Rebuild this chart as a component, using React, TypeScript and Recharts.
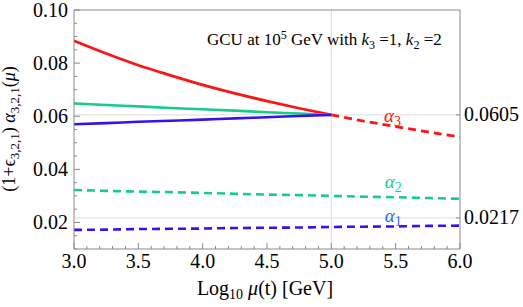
// Running couplings with gauge coupling unification at 10^5 GeV
import { Line, LineChart, ReferenceDot, ReferenceLine, XAxis, YAxis } from "recharts";

// log10 of the scale, GeV
const MU = [3.0, 3.25, 3.5, 3.75, 4.0, 4.25, 4.5, 4.75, 5.0, 5.25, 5.5, 5.75, 6.0];

// alpha_3 (solid below 5, dashed above)
const ALPHA3 = [0.0884, 0.0836, 0.0792, 0.0754, 0.0718, 0.0686, 0.0657, 0.063, 0.0605, 0.0582, 0.0561, 0.0541, 0.0522];
// (1+eps) alpha_2 and alpha_1, up to the unification point
const ALPHA2_GCU = [0.0648, 0.0642, 0.0637, 0.0631, 0.0626, 0.0621, 0.0615, 0.061, 0.0605];
const ALPHA1_GCU = [0.057, 0.0574, 0.0579, 0.0583, 0.0587, 0.0592, 0.0596, 0.0601, 0.0605];
// plain alpha_2 and alpha_1 (dashed)
const ALPHA2 = [0.0322, 0.0319, 0.0316, 0.0314, 0.0311, 0.0308, 0.0305, 0.0303, 0.03, 0.0297, 0.0295, 0.0292, 0.0289];
const ALPHA1 = [0.0172, 0.0173, 0.0175, 0.0176, 0.0177, 0.0179, 0.018, 0.0181, 0.0183, 0.0184, 0.0185, 0.0187, 0.0188];

// axis ticks
const X_MAJOR = [3.0, 3.5, 4.0, 4.5, 5.0, 5.5, 6.0];
const X_TICKS = [
  3.0, 3.1, 3.2, 3.3, 3.4, 3.5, 3.6, 3.7, 3.8, 3.9, 4.0, 4.1, 4.2, 4.3, 4.4, 4.5,
  4.6, 4.7, 4.8, 4.9, 5.0, 5.1, 5.2, 5.3, 5.4, 5.5, 5.6, 5.7, 5.8, 5.9, 6.0,
];
const Y_MAJOR = [0.02, 0.04, 0.06, 0.08, 0.1];
const Y_TICKS = [
  0.01, 0.015, 0.02, 0.025, 0.03, 0.035, 0.04, 0.045, 0.05, 0.055, 0.06, 0.065, 0.07,
  0.075, 0.08, 0.085, 0.09, 0.095, 0.1,
];
const RIGHT_TICKS = [0.0217, 0.0605];

const UNIFY_INDEX = MU.indexOf(5.0);

const data = MU.map((x, i) => ({
  x,
  a3Solid: i <= UNIFY_INDEX ? ALPHA3[i] : null,
  a3Dashed: i >= UNIFY_INDEX ? ALPHA3[i] : null,
  a2Gcu: i <= UNIFY_INDEX ? ALPHA2_GCU[i] : null,
  a1Gcu: i <= UNIFY_INDEX ? ALPHA1_GCU[i] : null,
  a2: ALPHA2[i],
  a1: ALPHA1[i],
}));

const SERIF = { fontFamily: "'Liberation Serif', 'DejaVu Serif', serif" };
const TICK_FONT = 20;
const AXIS = "#8a8a8a";
const GRID = "#dddddd";
const RED = "#ff1414";
const GREEN = "#14cc8c";
const BLUE = "#3414ee";
const BLUE_LABEL = "#2a66ee";

const isIn = (list: number[], v: number) => list.some((m) => Math.abs(m - v) < 1e-6);

function BottomTick({ x, y, payload }: any) {
  const major = isIn(X_MAJOR, payload.value);
  return (
    <g>
      <line x1={x} x2={x} y1={y} y2={y - (major ? 6 : 3)} stroke={AXIS} />
      {major && (
        <text x={x} y={y + 19} textAnchor="middle" style={SERIF} fontSize={TICK_FONT} fill="#000">
          {payload.value.toFixed(1)}
        </text>
      )}
    </g>
  );
}

function LeftTick({ x, y, payload }: any) {
  const major = isIn(Y_MAJOR, payload.value);
  return (
    <g>
      <line x1={x} x2={x + (major ? 6 : 3)} y1={y} y2={y} stroke={AXIS} />
      {major && (
        <text x={x - 6} y={y} dy="0.34em" textAnchor="end" style={SERIF} fontSize={TICK_FONT} fill="#000">
          {payload.value.toFixed(2)}
        </text>
      )}
    </g>
  );
}

function RightTick({ x, y, payload }: any) {
  return (
    <g>
      <line x1={x} x2={x - 4} y1={y} y2={y} stroke={AXIS} />
      <text x={x + 4} y={y} dy="0.32em" textAnchor="start" style={SERIF} fontSize={TICK_FONT} fill="#000">
        {payload.value.toFixed(4)}
      </text>
    </g>
  );
}

// alpha_i label drawn at a data point (baseline start)
function alphaLabel(sub: string, color: string) {
  return (p: any) => (
    <text x={p.cx} y={p.cy} style={SERIF} fontSize={19} fill={color}>
      <tspan fontStyle="italic">α</tspan>
      <tspan dy={4} fontSize={14}>
        {sub}
      </tspan>
    </text>
  );
}

export default function App() {
  return (
    <div style={{ position: "absolute", left: 0, top: 0, width: 523, height: 307, background: "#fff", ...SERIF }}>
      <LineChart width={523} height={307} data={data} margin={{ top: 10, right: 0, bottom: 0, left: 0 }}>
        <XAxis
          dataKey="x"
          type="number"
          domain={[3, 6]}
          ticks={X_TICKS}
          interval={0}
          height={58}
          stroke={AXIS}
          tickLine={false}
          tickSize={0}
          tickMargin={0}
          tick={<BottomTick />}
          allowDataOverflow
        />
        <YAxis
          yAxisId="left"
          type="number"
          domain={[0.01, 0.1]}
          ticks={Y_TICKS}
          interval={0}
          width={74}
          stroke={AXIS}
          tickLine={false}
          tickSize={0}
          tickMargin={0}
          tick={<LeftTick />}
          allowDataOverflow
        />
        <YAxis
          yAxisId="right"
          orientation="right"
          type="number"
          domain={[0.01, 0.1]}
          ticks={RIGHT_TICKS}
          interval={0}
          width={63}
          stroke={AXIS}
          tickLine={false}
          tickSize={0}
          tickMargin={0}
          tick={<RightTick />}
          allowDataOverflow
        />

        {/* grid lines at the unification point */}
        <ReferenceLine yAxisId="left" x={5} stroke={GRID} />
        <ReferenceLine yAxisId="left" y={0.0605} stroke={GRID} />
        <ReferenceLine yAxisId="left" y={0.0217} stroke={GRID} />
        <ReferenceLine yAxisId="left" y={0.1} stroke={AXIS} />

        <Line yAxisId="left" dataKey="a3Solid" type="monotone" stroke={RED} strokeWidth={2.8} dot={false} isAnimationActive={false} />
        <Line yAxisId="left" dataKey="a3Dashed" type="monotone" stroke={RED} strokeWidth={2.8} strokeDasharray="8 5" dot={false} isAnimationActive={false} />
        <Line yAxisId="left" dataKey="a2Gcu" type="monotone" stroke={GREEN} strokeWidth={2.6} dot={false} isAnimationActive={false} />
        <Line yAxisId="left" dataKey="a1Gcu" type="monotone" stroke={BLUE} strokeWidth={2.6} dot={false} isAnimationActive={false} />
        <Line yAxisId="left" dataKey="a2" type="monotone" stroke={GREEN} strokeWidth={2.6} strokeDasharray="8 5" dot={false} isAnimationActive={false} />
        <Line yAxisId="left" dataKey="a1" type="monotone" stroke={BLUE} strokeWidth={2.6} strokeDasharray="8 5" dot={false} isAnimationActive={false} />

        <ReferenceDot yAxisId="left" x={5.41} y={0.0577} r={0} shape={alphaLabel("3", RED)} />
        <ReferenceDot yAxisId="left" x={5.415} y={0.0328} r={0} shape={alphaLabel("2", GREEN)} />
        <ReferenceDot yAxisId="left" x={5.415} y={0.02} r={0} shape={alphaLabel("1", BLUE_LABEL)} />
      </LineChart>

      {/* title and axis labels */}
      <svg width={523} height={307} style={{ position: "absolute", left: 0, top: 0, pointerEvents: "none" }}>
        <text x={207} y={45} style={SERIF} fontSize={17} fill="#000">
          GCU at 10
          <tspan dy={-6} fontSize={12}>5</tspan>
          <tspan dy={6}> GeV with </tspan>
          <tspan fontStyle="italic">k</tspan>
          <tspan dy={4} fontSize={12}>3</tspan>
          <tspan dy={-4}> =1, </tspan>
          <tspan fontStyle="italic">k</tspan>
          <tspan dy={4} fontSize={12}>2</tspan>
          <tspan dy={-4}> =2</tspan>
        </text>
        <text x={265} y={295} textAnchor="middle" style={SERIF} fontSize={20} fill="#000">
          Log
          <tspan dy={4} fontSize={14}>10</tspan>
          <tspan dy={-4}> </tspan>
          <tspan fontStyle="italic">μ</tspan>
          <tspan>(t) [GeV]</tspan>
        </text>
        <text transform="translate(15,129) rotate(-90)" textAnchor="middle" style={SERIF} fontSize={18} fill="#000">
          (1+ϵ
          <tspan dy={4} fontSize={13}>3,2,1</tspan>
          <tspan dy={-4}>) </tspan>
          <tspan fontStyle="italic">α</tspan>
          <tspan dy={4} fontSize={13}>3,2,1</tspan>
          <tspan dy={-4}>(</tspan>
          <tspan fontStyle="italic">μ</tspan>
          <tspan>)</tspan>
        </text>
      </svg>
    </div>
  );
}
